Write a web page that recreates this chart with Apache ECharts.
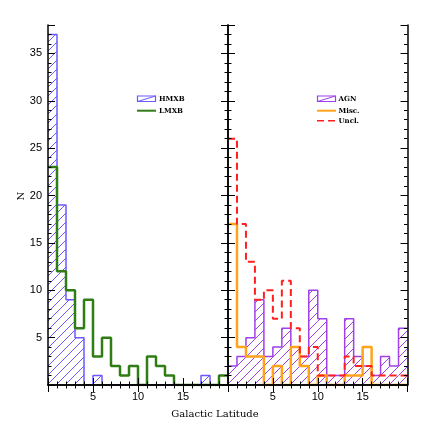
<!DOCTYPE html>
<html><head><meta charset="utf-8">
<script src="https://cdn.jsdelivr.net/npm/echarts@6/dist/echarts.min.js"></script>
<style>html,body{margin:0;padding:0;background:#fff}#c{width:436px;height:431px}</style>
</head><body><div id="c"></div>
<script>
// ---- data ----
const binStarts = [0,1,2,3,4,5,6,7,8,9,10,11,12,13,14,15,16,17,18,19];
const binWidth = 1;
const hmxb = [37,19,9,5,0,1,0,0,0,0,0,0,0,0,0,0,0,1,0,0];
const lmxb = [23,12,10,6,9,3,5,2,1,2,0,3,2,1,0,0,0,0,0,1];
const agn  = [2,3,5,9,3,4,6,4,3,10,7,1,1,7,3,2,1,3,2,6];
const misc = [17,4,3,3,0,2,0,4,2,0,1,0,0,1,1,4,0,0,0,0];
const uncl = [26,17,13,9,10,7,11,6,3,4,1,1,1,3,2,2,1,1,1,1];
const xMin = 0, xMax = 20, yMin = 0, yMax = 38;
const xLabelTicks = [5,10,15];
const yLabelTicks = [5,10,15,20,25,30,35];
const xTitle = 'Galactic Latitude';
const yTitle = 'N';

const C_HM = '#6a5aff', C_LM = '#2f7d14', C_AGN = '#a040e8', C_MISC = '#ffa31a', C_UNCL = '#ff1f1f';

function hatch(color){
  const c = document.createElement('canvas'); c.width = 9; c.height = 9;
  const g = c.getContext('2d'); g.strokeStyle = color; g.lineWidth = 1;
  g.beginPath(); g.moveTo(-1,10); g.lineTo(10,-1); g.stroke();
  return c;
}
const patHM = {image: hatch(C_HM), repeat: 'repeat'};
const patAGN = {image: hatch(C_AGN), repeat: 'repeat'};

function stepData(arr){
  const d = arr.map((v,i)=>[binStarts[i], v]);
  d.push([binStarts[arr.length-1] + binWidth, arr[arr.length-1]]);
  return d;
}
function barData(arr){ return arr.map((v,i)=>[binStarts[i], v]); }

const fontTick = {fontFamily:'Liberation Sans', fontSize:11, color:'#000'};

function xAxes(grid){
  return [
    {gridIndex:grid, type:'value', position:'bottom', min:xMin, max:xMax, interval:5, z:10,
     axisLine:{lineStyle:{color:'#000', width:1.5}},
     axisTick:{inside:true, length:7, lineStyle:{color:'#000', width:1}},
     minorTick:{show:true, splitNumber:5, length:3.5, lineStyle:{color:'#000', width:1}},
     axisLabel:Object.assign({margin:6, formatter:v=> xLabelTicks.includes(v) ? String(v) : ''}, fontTick),
     splitLine:{show:false}},
    {gridIndex:grid, type:'value', position:'top', min:xMin, max:xMax, interval:5, z:10,
     axisLine:{lineStyle:{color:'#000', width:1.5}},
     axisTick:{inside:true, length:7, lineStyle:{color:'#000', width:1}},
     minorTick:{show:true, splitNumber:5, length:3.5, lineStyle:{color:'#000', width:1}},
     axisLabel:{show:false}, splitLine:{show:false}}
  ];
}
function yAxes(grid, labels){
  const mk = (pos, major, showLab) => ({
    gridIndex:grid, type:'value', position:pos, min:yMin, max:yMax, interval: major ? 5 : 1, z:10,
    axisLine:{show: major, lineStyle:{color:'#000', width:1.5}},
    axisTick:{inside:true, length: major ? 7 : 3.5, lineStyle:{color:'#000', width:1}},
    axisLabel: showLab ? Object.assign({margin:6, formatter:v=> yLabelTicks.includes(v) ? String(v) : ''}, fontTick) : {show:false},
    splitLine:{show:false}
  });
  return [mk('left', true, labels), mk('left', false, false), mk('right', true, false), mk('right', false, false)];
}

function hatchSeries(arr, xi, yi, pat){
  return {
    type:'custom', xAxisIndex:xi, yAxisIndex:yi, z:2, clip:true,
    data: barData(arr),
    renderItem:(params, api)=>{
      const x = api.value(0), v = api.value(1);
      if (!v) return null;
      const p0 = api.coord([x, v]), p1 = api.coord([x + binWidth, 0]);
      return {type:'rect', shape:{x:p0[0], y:p0[1], width:p1[0]-p0[0], height:p1[1]-p0[1]},
              style:{fill:pat, stroke:null}};
    }
  };
}
function stepSeries(arr, xi, yi, color, width, dash, z){
  return {type:'line', xAxisIndex:xi, yAxisIndex:yi, step:'end', data:stepData(arr), symbol:'none',
          z:z, silent:true, clip:true,
          lineStyle:{color:color, width:width, type: dash ? [7,4] : 'solid'}};
}

const option = {
  backgroundColor:'#fff',
  animation:false,
  grid:[
    {left:48, top:25, width:180, height:360},
    {left:228, top:25, width:179.5, height:360}
  ],
  xAxis: xAxes(0).concat(xAxes(1)),
  yAxis: yAxes(0, true).concat(yAxes(1, false)),
  series:[
    hatchSeries(hmxb, 0, 0, patHM),
    stepSeries(hmxb, 0, 0, C_HM, 1.5, false, 3),
    stepSeries(lmxb, 0, 0, C_LM, 2.5, false, 4),
    hatchSeries(agn, 2, 4, patAGN),
    stepSeries(agn, 2, 4, C_AGN, 1.5, false, 3),
    stepSeries(misc, 2, 4, C_MISC, 2.5, false, 4),
    stepSeries(uncl, 2, 4, C_UNCL, 2, true, 5)
  ],
  graphic:[
    {type:'text', left:null, x:215, y:414, style:{text:xTitle, fontFamily:'DejaVu Serif', fontSize:10, fill:'#000', align:'center', verticalAlign:'middle'}},
    {type:'text', x:21, y:196, rotation:Math.PI/2, style:{text:yTitle, fontFamily:'DejaVu Serif', fontSize:10, fill:'#000', align:'center', verticalAlign:'middle'}},
    // left legend
    {type:'rect', shape:{x:137.5, y:96, width:18, height:5.5}, style:{fill:'#fff', stroke:C_HM, lineWidth:1.2}},
    {type:'line', shape:{x1:137.5, y1:101.5, x2:155.5, y2:96}, style:{stroke:C_HM, lineWidth:1}},
    {type:'line', shape:{x1:137, y1:110.7, x2:156, y2:110.7}, style:{stroke:C_LM, lineWidth:2}},
    {type:'text', x:159, y:98.8, style:{text:'HMXB', fontFamily:'DejaVu Serif', fontWeight:'bold', fontSize:7, fill:'#000', verticalAlign:'middle'}},
    {type:'text', x:159, y:110.7, style:{text:'LMXB', fontFamily:'DejaVu Serif', fontWeight:'bold', fontSize:7, fill:'#000', verticalAlign:'middle'}},
    // right legend
    {type:'rect', shape:{x:317.5, y:96, width:18, height:5.5}, style:{fill:'#fff', stroke:C_AGN, lineWidth:1.2}},
    {type:'line', shape:{x1:317.5, y1:101.5, x2:335.5, y2:96}, style:{stroke:C_AGN, lineWidth:1}},
    {type:'line', shape:{x1:317, y1:110.7, x2:336, y2:110.7}, style:{stroke:C_MISC, lineWidth:2}},
    {type:'line', shape:{x1:317, y1:120.7, x2:336, y2:120.7}, style:{stroke:C_UNCL, lineWidth:1.5, lineDash:[7,4]}},
    {type:'text', x:338.5, y:98.8, style:{text:'AGN', fontFamily:'DejaVu Serif', fontWeight:'bold', fontSize:7, fill:'#000', verticalAlign:'middle'}},
    {type:'text', x:338.5, y:110.7, style:{text:'Misc.', fontFamily:'DejaVu Serif', fontWeight:'bold', fontSize:7, fill:'#000', verticalAlign:'middle'}},
    {type:'text', x:338.5, y:120.7, style:{text:'Uncl.', fontFamily:'DejaVu Serif', fontWeight:'bold', fontSize:7, fill:'#000', verticalAlign:'middle'}}
  ]
};
const chart = echarts.init(document.getElementById('c'), null, {renderer:'canvas'});
chart.setOption(option);
</script>
</body></html>
